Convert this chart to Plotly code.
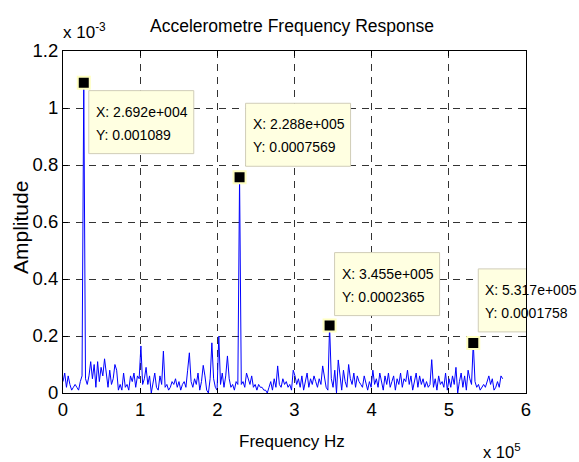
import plotly.graph_objects as go

# ---------------- data ----------------
freq_step_hz = 2243.33  # FFT bin width

# amplitude per bin, in units of 1e-3
amplitude_e3 = [
    0.04, 0.07, 0.02, 0.06, 0.03, 0.01, 0.02, 0.03, 0.02, 0.01, 0.04, 0.06, 1.089, 0.05, 0.03,
    0.06, 0.11, 0.05, 0.10, 0.02, 0.11, 0.04, 0.09, 0.06, 0.12, 0.07, 0.02, 0.08, 0.03, 0.05,
    0.10, 0.08, 0.01, 0.03, 0.01, 0.07, 0.02, 0.03, 0.01, 0.06, 0.04, 0.07, 0.02, 0.06, 0.05,
    0.165, 0.03, 0.05, 0.09, 0.03, 0.06, 0.00, 0.04, 0.07, 0.02, 0.01, 0.06, 0.03, 0.147, 0.02,
    0.03, 0.01, 0.02, 0.04, 0.03, 0.05, 0.02, 0.04, 0.01, 0.03, 0.04, 0.02, 0.08, 0.141, 0.04,
    0.02, 0.05, 0.03, 0.07, 0.01, 0.04, 0.097, 0.06, 0.01, 0.00, 0.05, 0.176, 0.05, 0.02, 0.01,
    0.199, 0.03, 0.07, 0.02, 0.06, 0.13, 0.05, 0.02, 0.03, 0.01, 0.04, 0.03, 0.7569, 0.03, 0.04,
    0.02, 0.07, 0.05, 0.03, 0.06, 0.02, 0.03, 0.01, 0.03, 0.02, 0.02, 0.01, 0.01, 0.00, 0.02,
    0.04, 0.01, 0.05, 0.02, 0.095, 0.03, 0.02, 0.05, 0.03, 0.04, 0.02, 0.03, 0.01, 0.08, 0.06,
    0.03, 0.05, 0.02, 0.06, 0.01, 0.04, 0.07, 0.02, 0.05, 0.03, 0.06, 0.04, 0.02, 0.05, 0.03,
    0.095, 0.06, 0.02, 0.01, 0.2365, 0.05, 0.02, 0.08, 0.00, 0.116, 0.06, 0.01, 0.08, 0.04, 0.02,
    0.10, 0.05, 0.03, 0.07, 0.02, 0.06, 0.04, 0.03, 0.02, 0.06, 0.03, 0.01, 0.04, 0.02, 0.08,
    0.03, 0.05, 0.02, 0.07, 0.04, 0.01, 0.06, 0.03, 0.07, 0.02, 0.04, 0.06, 0.01, 0.05, 0.03,
    0.07, 0.02, 0.05, 0.04, 0.08, 0.03, 0.06, 0.01, 0.04, 0.07, 0.02, 0.06, 0.03, 0.05, 0.02,
    0.04, 0.02, 0.03, 0.117, 0.02, 0.05, 0.01, 0.06, 0.03, 0.04, 0.02, 0.07, 0.01, 0.05, 0.02,
    0.06, 0.03, 0.09, 0.00, 0.04, 0.07, 0.02, 0.06, 0.01, 0.08, 0.05, 0.03, 0.1758, 0.04, 0.02,
    0.03, 0.01, 0.02, 0.03, 0.02, 0.04, 0.06, 0.03, 0.05, 0.01, 0.02, 0.04, 0.02, 0.06, 0.05,
]

# bins marked with data tips
peak_index = [12, 102, 154, 237]
# data-tip box top-left offsets from the marked point (pixels, y up)
tip_xshift = [5, 6, 5, 5]
tip_yshift = [-8, 74, 73, 74]

x_tick_vals = [0, 1e5, 2e5, 3e5, 4e5, 5e5, 6e5]
x_tick_text = ["0", "1", "2", "3", "4", "5", "6"]
y_tick_vals = [0, 0.2e-3, 0.4e-3, 0.6e-3, 0.8e-3, 1.0e-3, 1.2e-3]
y_tick_text = ["0", "0.2", "0.4", "0.6", "0.8", "1", "1.2"]

# ---------------- derived ----------------
amplitude = [v * 1e-3 for v in amplitude_e3]
freq = [i * freq_step_hz for i in range(len(amplitude))]
peak_x = [freq[i] for i in peak_index]
peak_y = [amplitude[i] for i in peak_index]


def matlab_e(v):
    mant, ex = f"{v:.3e}".split("e")
    return f"{mant}e{ex[0]}{int(ex[1:]):03d}"


FONT = "Liberation Sans, Arial, sans-serif"
TIP_W, TIP_H = 105, 63

fig = go.Figure()
fig.add_trace(go.Scatter(
    x=freq, y=amplitude, mode="lines",
    line=dict(color="#0000FF", width=1),
    hoverinfo="skip", showlegend=False,
))
fig.add_trace(go.Scatter(
    x=peak_x, y=peak_y, mode="markers",
    marker=dict(symbol="square", size=12, color="black",
                line=dict(color="#FFFFC0", width=2)),
    cliponaxis=False, hoverinfo="skip", showlegend=False,
))

shapes = []
annotations = []
for px, py, dx, dy in zip(peak_x, peak_y, tip_xshift, tip_yshift):
    shapes.append(dict(
        type="rect", xref="x", yref="y", layer="above",
        xsizemode="pixel", ysizemode="pixel",
        xanchor=px, yanchor=py,
        x0=dx, x1=dx + TIP_W, y0=dy - TIP_H, y1=dy,
        fillcolor="#FFFFE1", line=dict(color="#D0CDB8", width=1),
    ))
    for k, line_text in enumerate([f"X: {matlab_e(px)}", f"Y: {py:.4g}"]):
        annotations.append(dict(
            x=px, y=py, xref="x", yref="y",
            text=line_text, showarrow=False,
            xanchor="left", yanchor="middle",
            xshift=dx + 5, yshift=dy - 21 - 23 * k,
            font=dict(family=FONT, size=14, color="black"),
        ))

annotations += [
    dict(text="Accelerometre Frequency Response", xref="paper", yref="paper",
         x=0.5, y=1, xshift=-3, yshift=25, xanchor="center", yanchor="middle",
         showarrow=False, font=dict(family=FONT, size=17.5, color="black")),
    dict(text="x 10<sup>-3</sup>", xref="paper", yref="paper",
         x=0, y=1, xshift=-2, yshift=20, xanchor="left", yanchor="middle",
         showarrow=False, font=dict(family=FONT, size=17, color="black")),
    dict(text="x 10<sup>5</sup>", xref="paper", yref="paper",
         x=1, y=0, xshift=-3, yshift=-58, xanchor="right", yanchor="middle",
         showarrow=False, font=dict(family=FONT, size=16.5, color="black")),
    dict(text="Frequency Hz", xref="paper", yref="paper",
         x=0.5, y=0, xshift=-3, yshift=-48, xanchor="center", yanchor="middle",
         showarrow=False, font=dict(family=FONT, size=17, color="black")),
    dict(text="Amplitude", xref="paper", yref="paper",
         x=0, y=0.5, xshift=-43, yshift=-6, xanchor="center", yanchor="middle",
         textangle=-90, showarrow=False,
         font=dict(family=FONT, size=21, color="black")),
]

axis_common = dict(
    showgrid=True, gridcolor="#333333", gridwidth=1, griddash="7px,6px",
    showline=True, linecolor="black", linewidth=1, mirror="ticks",
    ticks="inside", ticklen=5, tickcolor="black", zeroline=False,
    tickfont=dict(family=FONT, size=18.5, color="black"),
)

fig.update_layout(
    width=579, height=462,
    margin=dict(l=63, r=53, t=51, b=69),
    paper_bgcolor="white", plot_bgcolor="white",
    xaxis=dict(range=[0, 6e5], tickmode="array", tickvals=x_tick_vals,
               ticktext=x_tick_text, **axis_common),
    yaxis=dict(range=[0, 1.2e-3], tickmode="array", tickvals=y_tick_vals,
               ticktext=y_tick_text, **axis_common),
    shapes=shapes,
    annotations=annotations,
    showlegend=False,
)

fig.write_html("out.html")
